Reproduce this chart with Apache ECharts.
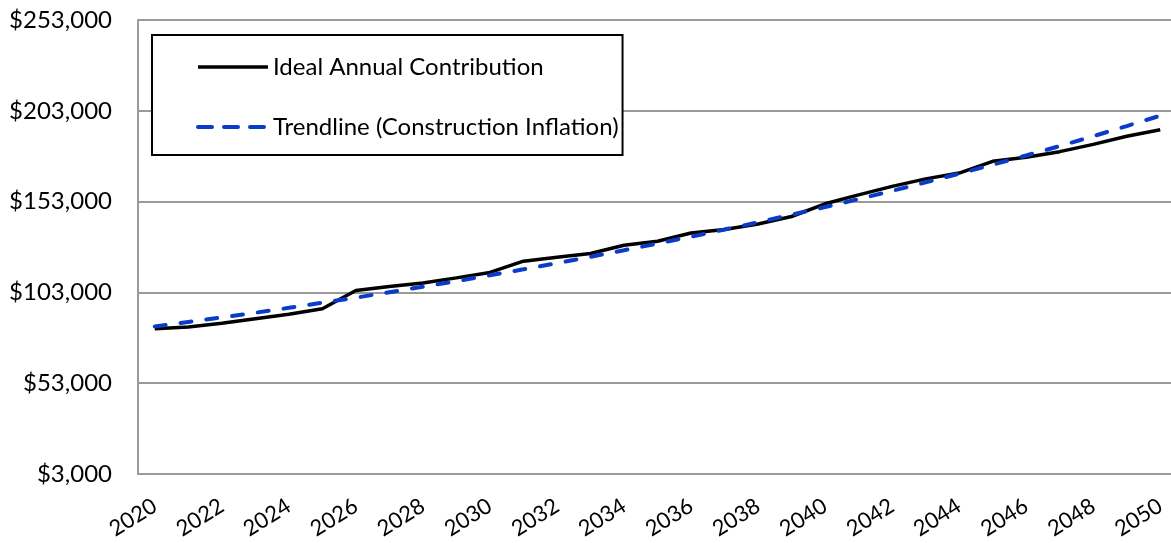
<!DOCTYPE html>
<html>
<head>
<meta charset="utf-8">
<script src="https://cdn.jsdelivr.net/npm/echarts@6/dist/echarts.min.js"></script>
<style>
  html, body { margin: 0; padding: 0; background: #fff; }
  #chart { width: 1171px; height: 543px; }
</style>
</head>
<body>
<div id="chart"></div>
<script>
// Years on the horizontal axis
const years = [
  2020, 2021, 2022, 2023, 2024, 2025, 2026, 2027, 2028, 2029,
  2030, 2031, 2032, 2033, 2034, 2035, 2036, 2037, 2038, 2039,
  2040, 2041, 2042, 2043, 2044, 2045, 2046, 2047, 2048, 2049, 2050
];

// Ideal annual contribution ($)
const idealContribution = [
  83000, 84000, 86000, 88500, 91000, 94000, 104000, 106300, 108200, 111000,
  114000, 120200, 122300, 124400, 129000, 131200, 135700, 137600, 140700, 144800,
  151800, 156700, 161400, 165500, 168700, 175200, 177400, 180500, 184500, 189000,
  192600
];

// Trendline following construction inflation ($)
const trendline = [
  84200, 86700, 89200, 91800, 94500, 97300, 100100, 103100, 106100, 109200,
  112400, 115700, 119100, 122600, 126200, 129900, 133700, 137600, 141600, 145800,
  150000, 154400, 158900, 163600, 168400, 173300, 178400, 183600, 189000, 194600,
  200300
];

const FONT = 'Lato, "Open Sans", sans-serif';
const BLACK = '#000000';
const BLUE = '#0a3cc8';

function money(v) {
  return '$' + Math.round(v).toString().replace(/\B(?=(\d{3})+(?!\d))/g, ',');
}

const chart = echarts.init(document.getElementById('chart'), null, { renderer: 'canvas' });

chart.setOption({
  backgroundColor: '#ffffff',
  animation: false,
  textStyle: { fontFamily: FONT },
  grid: {
    left: 138, right: -6, top: 20, bottom: 69,
    containLabel: false,
    outerBoundsMode: 'none'
  },
  legend: {
    left: 152,
    top: 35,
    orient: 'vertical',
    padding: [20, 4, 16, 44],
    itemGap: 36,
    itemWidth: 70,
    itemHeight: 24,
    borderColor: '#000',
    borderWidth: 2,
    backgroundColor: '#fff',
    itemStyle: { color: 'rgba(0,0,0,0)', borderWidth: 0 },
    textStyle: { fontFamily: FONT, fontSize: 24, color: '#000', padding: [0, 0, 0, 0] },
    data: [
      {
        name: 'Ideal Annual Contribution',
        lineStyle: { color: BLACK, width: 3.5 }
      },
      {
        name: 'Trendline (Construction Inflation)',
        lineStyle: { color: BLUE, width: 4, type: [14, 12], cap: 'round' }
      }
    ]
  },
  xAxis: {
    type: 'category',
    data: years.map(String),
    boundaryGap: true,
    axisLine: { show: true, lineStyle: { color: '#9a9a9a', width: 2 } },
    axisTick: { show: false },
    axisLabel: {
      interval: 1,
      rotate: 32,
      margin: 30,
      fontFamily: FONT,
      fontSize: 22,
      color: '#000'
    },
    splitLine: { show: false }
  },
  yAxis: {
    type: 'value',
    min: 3000,
    max: 253000,
    interval: 50000,
    axisLine: { show: true, lineStyle: { color: '#9a9a9a', width: 2 } },
    axisTick: { show: false },
    axisLabel: {
      formatter: money,
      margin: 26,
      fontFamily: FONT,
      fontSize: 24,
      color: '#000'
    },
    splitLine: { show: true, lineStyle: { color: '#9a9a9a', width: 2 } }
  },
  series: [
    {
      name: 'Ideal Annual Contribution',
      type: 'line',
      data: idealContribution,
      symbol: 'none',
      z: 2,
      lineStyle: { color: BLACK, width: 3.5 },
      itemStyle: { color: BLACK }
    },
    {
      name: 'Trendline (Construction Inflation)',
      type: 'line',
      data: trendline,
      symbol: 'none',
      z: 3,
      lineStyle: { color: BLUE, width: 4, type: [11, 15], cap: 'round' },
      itemStyle: { color: BLUE }
    }
  ]
});
</script>
</body>
</html>
